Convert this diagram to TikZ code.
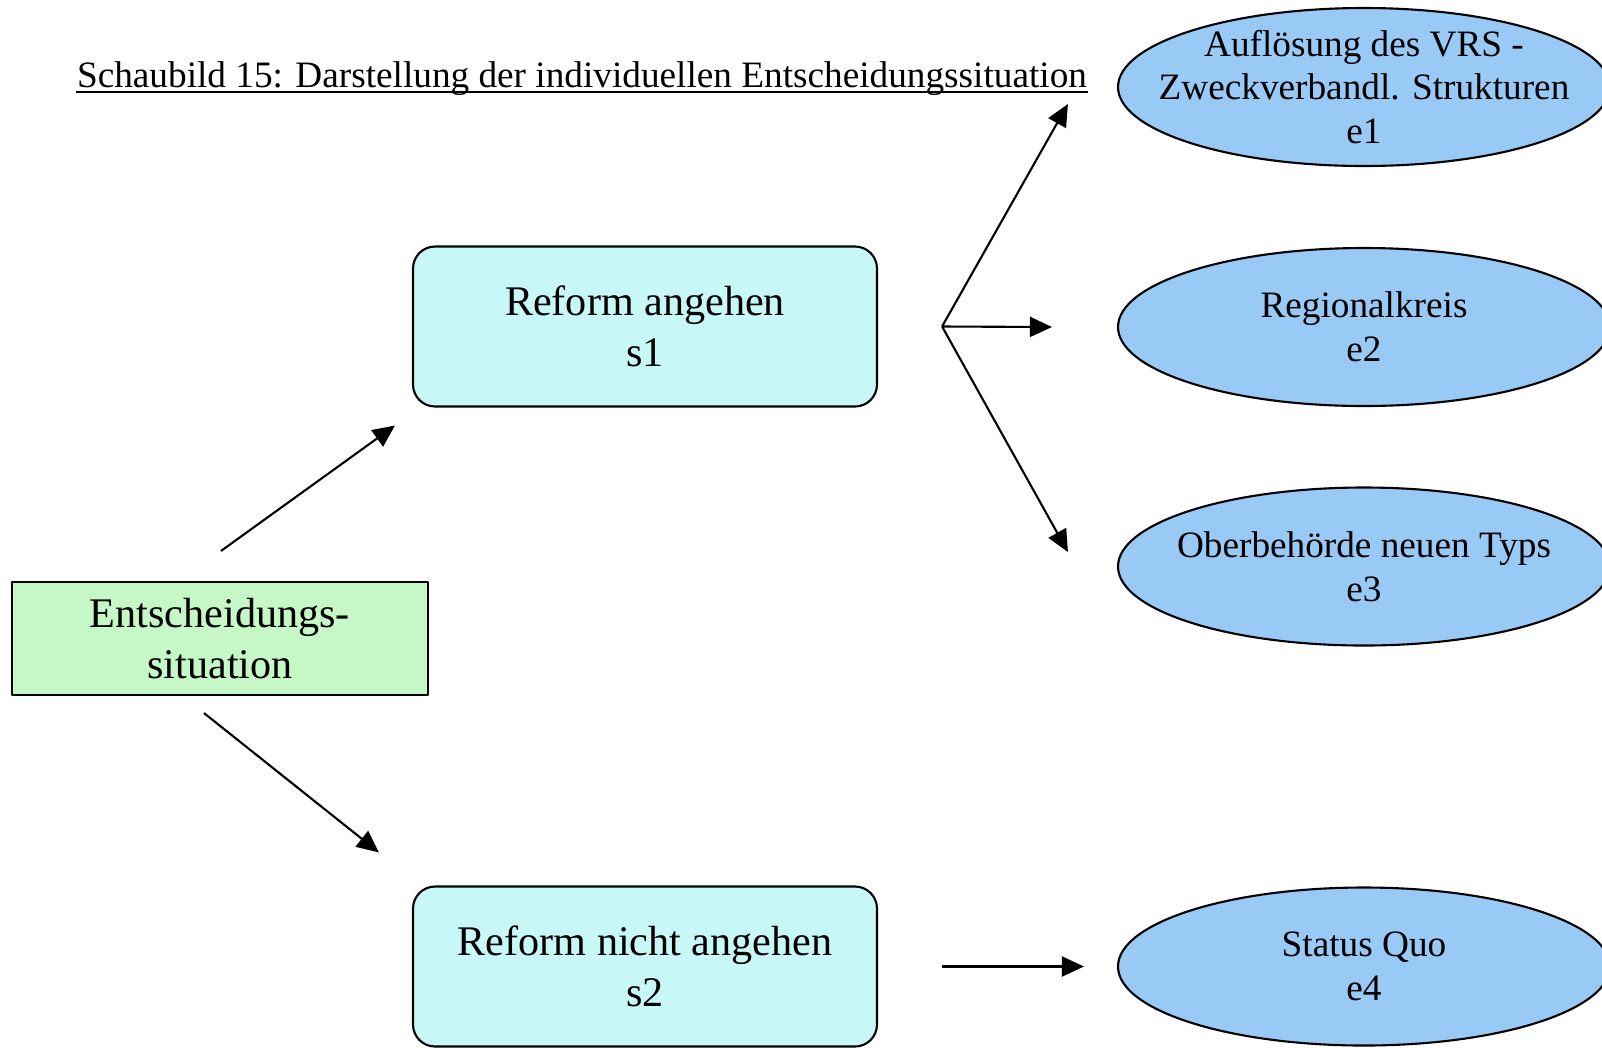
\documentclass[tikz,border=0pt]{standalone}
\usepackage{fontspec}
\setmainfont{Liberation Serif}
\usetikzlibrary{arrows.meta,shapes.geometric}
\definecolor{sitgreen}{HTML}{C6F7C6}
\definecolor{stratcyan}{HTML}{C8F7F7}
\definecolor{resblue}{HTML}{99C9F5}
\tikzset{
  situation/.style={draw, fill=sitgreen, minimum width=4.16cm, minimum height=1.13cm, align=center, font=\fontsize{12}{14.5}\selectfont},
  strategy/.style={draw, fill=stratcyan, rounded corners=0.22cm, minimum width=4.64cm, minimum height=1.6cm, align=center, font=\fontsize{12}{14.5}\selectfont},
  result/.style={draw, fill=resblue, ellipse, inner xsep=-0.6cm, inner ysep=-0.3cm, minimum width=4.92cm, minimum height=1.58cm, align=center, font=\fontsize{10.6}{12.5}\selectfont}
}
\begin{document}
\begin{tikzpicture}[line width=0.6pt, line join=round, >={Triangle[length=0.22cm,width=0.2cm]}]
	\useasboundingbox (0,0) rectangle (16.02,-10.47);
	\node[anchor=base, inner sep=0pt, font=\fontsize{10.6}{12.5}\selectfont] (title) at (5.82,-0.87) {Schaubild 15: Darstellung der individuellen Entscheidungssituation};
	\draw[line width=0.45pt] ([yshift=-0.5mm]title.base west) -- ([yshift=-0.5mm]title.base east);
	\node[situation] (sit) at (2.20,-6.385) {Entscheidungs-\\situation};
	\node[strategy] (s1) at (6.45,-3.265) {Reform angehen\\s1};
	\node[strategy] (s2) at (6.45,-9.665) {Reform nicht angehen\\s2};
	\node[result] (e1) at (13.64,-0.87) {Auflösung des VRS -\\Zweckverbandl. Strukturen\\e1};
	\node[result] (e2) at (13.64,-3.27) {Regionalkreis\\e2};
	\node[result] (e3) at (13.64,-5.665) {Oberbehörde neuen Typs\\e3};
	\node[result] (e4) at (13.64,-9.665) {Status Quo\\e4};
	\coordinate (fan) at ([xshift=6.4mm]s1.east);
	\draw[->] ([xshift=0.01cm,yshift=3mm]sit.north) -- ([shift={(-0.17,-0.18)}]s1.south west);
	\draw[->] ([xshift=-0.16cm,yshift=-1.7mm]sit.south) -- ([shift={(-0.33,0.33)}]s2.north west);
	\draw[->] (fan) -- ([shift={(-0.49,-0.17)}]e1.west);
	\draw[->] (fan) -- ([xshift=-6.5mm]e2.west);
	\draw[->] (fan) -- ([shift={(-0.49,0.145)}]e3.west);
	\draw[->] ([xshift=6.4mm]s2.east) -- ([xshift=-3.3mm]e4.west);
\end{tikzpicture}
\end{document}
